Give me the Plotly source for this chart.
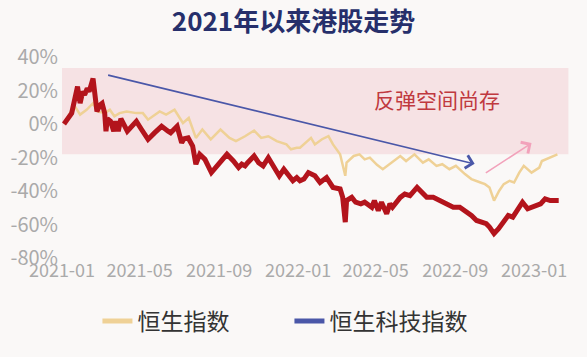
import plotly.graph_objects as go

# ---------------- data ----------------
hsi_dates = [
    "2021-01-04", "2021-01-15", "2021-01-21", "2021-01-29", "2021-02-08", "2021-02-18",
    "2021-02-25", "2021-03-08", "2021-03-16", "2021-03-23", "2021-03-31", "2021-04-11",
    "2021-04-26", "2021-05-06", "2021-05-14", "2021-05-21", "2021-06-01", "2021-06-11",
    "2021-06-24", "2021-07-07", "2021-07-16", "2021-07-27", "2021-08-06", "2021-08-19",
    "2021-09-03", "2021-09-17", "2021-09-27", "2021-10-11", "2021-10-25", "2021-11-05",
    "2021-11-16", "2021-11-29", "2021-12-14", "2021-12-21", "2021-12-30", "2022-01-04",
    "2022-01-12", "2022-01-21", "2022-01-27", "2022-02-07", "2022-02-17", "2022-02-24",
    "2022-03-07", "2022-03-11", "2022-03-15", "2022-03-17", "2022-03-28", "2022-04-06",
    "2022-04-14", "2022-04-22", "2022-05-03", "2022-05-12", "2022-05-25", "2022-06-08",
    "2022-06-17", "2022-06-30", "2022-07-13", "2022-07-22", "2022-08-03", "2022-08-12",
    "2022-08-23", "2022-09-02", "2022-09-16", "2022-09-26", "2022-10-10", "2022-10-17",
    "2022-10-24", "2022-10-31", "2022-11-08", "2022-11-15", "2022-11-24", "2022-12-01",
    "2022-12-09", "2022-12-16", "2022-12-28", "2023-01-09", "2023-01-13", "2023-01-24",
    "2023-02-06",
]
hsi_values = [
    0.0, 7.5, 10.5, 5.6, 8.5, 12.4,
    7.5, 6.5, 8.5, 4.6, 6.5, 7.5,
    6.5, 6.5, 2.6, 4.6, 7.5, 5.6,
    8.5, 0.6, 3.6, -8.3, -3.3, -9.2,
    -3.3, -8.3, -10.2, -7.3, -3.9, -8.3,
    -7.3, -10.2, -12.2, -15.1, -14.2, -14.2,
    -11.2, -8.3, -12.2, -9.1, -7.3, -12.2,
    -18.1, -25.0, -30.9, -23.1, -19.1, -18.1,
    -21.1, -20.1, -24.4, -27.0, -23.1, -19.1,
    -22.1, -18.1, -23.1, -21.1, -25.0, -24.0,
    -27.0, -25.0, -29.9, -32.9, -34.9, -35.9,
    -37.9, -45.7, -39.8, -35.9, -33.9, -34.9,
    -29.0, -25.0, -29.0, -26.0, -22.1, -20.1,
    -18.1,
]

hstech_dates = [
    "2021-01-04", "2021-01-11", "2021-01-16", "2021-01-25", "2021-01-29", "2021-02-02",
    "2021-02-05", "2021-02-09", "2021-02-12", "2021-02-18", "2021-02-24", "2021-03-01",
    "2021-03-04", "2021-03-08", "2021-03-10", "2021-03-12", "2021-03-17", "2021-03-22",
    "2021-03-25", "2021-03-29", "2021-04-02", "2021-04-12", "2021-04-19", "2021-04-26",
    "2021-05-04", "2021-05-14", "2021-05-24", "2021-06-04", "2021-06-14", "2021-06-18",
    "2021-06-28", "2021-07-05", "2021-07-09", "2021-07-15", "2021-07-22", "2021-07-27",
    "2021-08-02", "2021-08-10", "2021-08-20", "2021-09-02", "2021-09-13", "2021-09-23",
    "2021-10-01", "2021-10-06", "2021-10-11", "2021-10-15", "2021-10-25", "2021-11-01",
    "2021-11-08", "2021-11-16", "2021-11-24", "2021-12-03", "2021-12-10", "2021-12-20",
    "2021-12-24", "2021-12-30", "2022-01-04", "2022-01-10", "2022-01-17", "2022-01-27",
    "2022-02-04", "2022-02-14", "2022-02-24", "2022-03-07", "2022-03-11", "2022-03-15",
    "2022-03-17", "2022-03-25", "2022-03-31", "2022-04-08", "2022-04-14", "2022-04-25",
    "2022-04-29", "2022-05-05", "2022-05-10", "2022-05-18", "2022-05-23", "2022-05-27",
    "2022-06-08", "2022-06-15", "2022-06-23", "2022-07-04", "2022-07-11", "2022-07-19",
    "2022-07-29", "2022-08-09", "2022-08-19", "2022-08-29", "2022-09-08", "2022-09-16",
    "2022-09-26", "2022-10-04", "2022-10-11", "2022-10-19", "2022-10-24", "2022-10-31",
    "2022-11-07", "2022-11-14", "2022-11-22", "2022-11-29", "2022-12-07", "2022-12-14",
    "2022-12-22", "2022-12-30", "2023-01-11", "2023-01-18", "2023-01-26", "2023-02-08",
]
hstech_values = [
    0.0, 3.6, 6.5, 22.3, 12.4, 19.3,
    17.4, 21.3, 19.3, 27.2, 7.5, 11.5,
    12.4, 6.5, -4.3, 3.2, 1.6, -4.3,
    1.6, -4.3, 3.2, -4.3, -1.4, 1.6,
    -3.3, -9.2, -5.3, -1.4, -4.3, -5.3,
    -1.4, -11.2, -8.8, -8.3, -13.2, -24.0,
    -18.1, -21.1, -29.0, -23.1, -18.1, -22.1,
    -26.0, -24.0, -25.0, -23.1, -19.1, -23.1,
    -25.0, -20.1, -25.0, -31.0, -27.0, -32.0,
    -33.9, -32.0, -33.9, -32.9, -29.0, -30.9,
    -34.9, -32.0, -37.9, -38.8, -43.8, -58.6,
    -45.7, -43.8, -46.7, -47.7, -46.7, -49.7,
    -45.7, -51.7, -46.7, -53.6, -47.7, -49.7,
    -43.8, -41.8, -42.8, -37.9, -40.8, -43.8,
    -43.8, -45.7, -47.7, -49.7, -49.7, -51.7,
    -54.6, -57.6, -58.6, -59.5, -61.5, -65.4,
    -62.5, -58.6, -54.6, -55.6, -50.6, -46.7,
    -50.6, -49.7, -47.7, -44.7, -45.7, -45.7,
]

series_names = ["恒生指数", "恒生科技指数"]
title_text = "2021年以来港股走势"
note_text = "反弹空间尚存"

x_tick_vals = ["2021-01-01", "2021-05-01", "2021-09-01", "2022-01-01",
               "2022-05-01", "2022-09-01", "2023-01-01"]
x_tick_labels = ["2021-01", "2021-05", "2021-09", "2022-01",
                 "2022-05", "2022-09", "2023-01"]
y_tick_vals = [40, 20, 0, -20, -40, -60, -80]
y_tick_labels = ["40%", "20%", "0%", "-20%", "-40%", "-60%", "-80%"]

# shaded band and arrows (data units)
band_x = ["2021-01-01", "2023-02-23"]
band_y = [-18, 33.5]
down_arrow_from = ("2021-03-11", 29.4)
down_arrow_to = ("2022-10-01", -23.8)
up_arrow_from = ("2022-10-16", -29.8)
up_arrow_to = ("2022-12-28", -11.4)
note_pos = ("2022-08-04", 15.2)

# ---------------- style ----------------
FONT = "Noto Sans CJK SC"
TAN = "#efd196"
RED = "#b3141c"
BLUE = "#4a57a8"
BG = "#faf8f7"

fig = go.Figure()

fig.add_trace(go.Scatter(x=hsi_dates, y=hsi_values, mode="lines",
                         line=dict(color=TAN, width=2.5), showlegend=False,
                         name=series_names[0]))
fig.add_trace(go.Scatter(x=hstech_dates, y=hstech_values, mode="lines",
                         line=dict(color=RED, width=5), showlegend=False,
                         name=series_names[1]))
# legend entries (as drawn in the original)
fig.add_trace(go.Scatter(x=[None], y=[None], mode="lines",
                         line=dict(color=TAN, width=5), name=series_names[0]))
fig.add_trace(go.Scatter(x=[None], y=[None], mode="lines",
                         line=dict(color=BLUE, width=5), name=series_names[1]))

fig.add_shape(type="rect", xref="x", yref="y",
              x0=band_x[0], x1=band_x[1], y0=band_y[0], y1=band_y[1],
              fillcolor="#f6e2e4", line=dict(width=0), layer="below")

fig.add_annotation(x=down_arrow_to[0], y=down_arrow_to[1],
                   ax=down_arrow_from[0], ay=down_arrow_from[1],
                   xref="x", yref="y", axref="x", ayref="y",
                   text="", showarrow=True, arrowhead=4, arrowsize=1.6,
                   arrowwidth=1.6, arrowcolor=BLUE)
fig.add_annotation(x=up_arrow_to[0], y=up_arrow_to[1],
                   ax=up_arrow_from[0], ay=up_arrow_from[1],
                   xref="x", yref="y", axref="x", ayref="y",
                   text="", showarrow=True, arrowhead=4, arrowsize=1.6,
                   arrowwidth=1.6, arrowcolor="#f2a2bb")
fig.add_annotation(x=note_pos[0], y=note_pos[1], xref="x", yref="y",
                   text=note_text, showarrow=False,
                   font=dict(family=FONT, size=21, color="#c0393f"))

fig.update_layout(
    width=587, height=357,
    paper_bgcolor=BG, plot_bgcolor=BG,
    margin=dict(l=62, r=16, t=57, b=99, autoexpand=False),
    title=dict(text=title_text, x=0.5, xref="container", xanchor="center",
               y=0.94, yref="container", yanchor="middle",
               font=dict(family=FONT, size=26, color="#262f6b", weight="bold")),
    font=dict(family=FONT),
    xaxis=dict(type="date", range=["2021-01-01", "2023-02-27"],
               tickvals=x_tick_vals, ticktext=x_tick_labels,
               showgrid=False, zeroline=False, showline=False, ticks="",
               tickfont=dict(family=FONT, size=18, color="#aaaaaa")),
    yaxis=dict(range=[-80, 40], tickvals=y_tick_vals, ticktext=y_tick_labels,
               showgrid=False, zeroline=False, showline=False, ticks="",
               ticklabelstandoff=3,
               tickfont=dict(family=FONT, size=20, color="#aaaaaa")),
    legend=dict(orientation="h", x=0.166, xref="container", xanchor="left",
                y=0.101, yref="container", yanchor="middle",
                font=dict(family=FONT, size=23, color="#333333"),
                bgcolor="rgba(0,0,0,0)", itemwidth=30, tracegroupgap=0,
                entrywidth=147, entrywidthmode="pixels"),
)

fig.write_html("out.html",
               config={"displayModeBar": False},
               post_script="document.body.style.margin='0';"
                           "document.body.style.background='" + BG + "';")
